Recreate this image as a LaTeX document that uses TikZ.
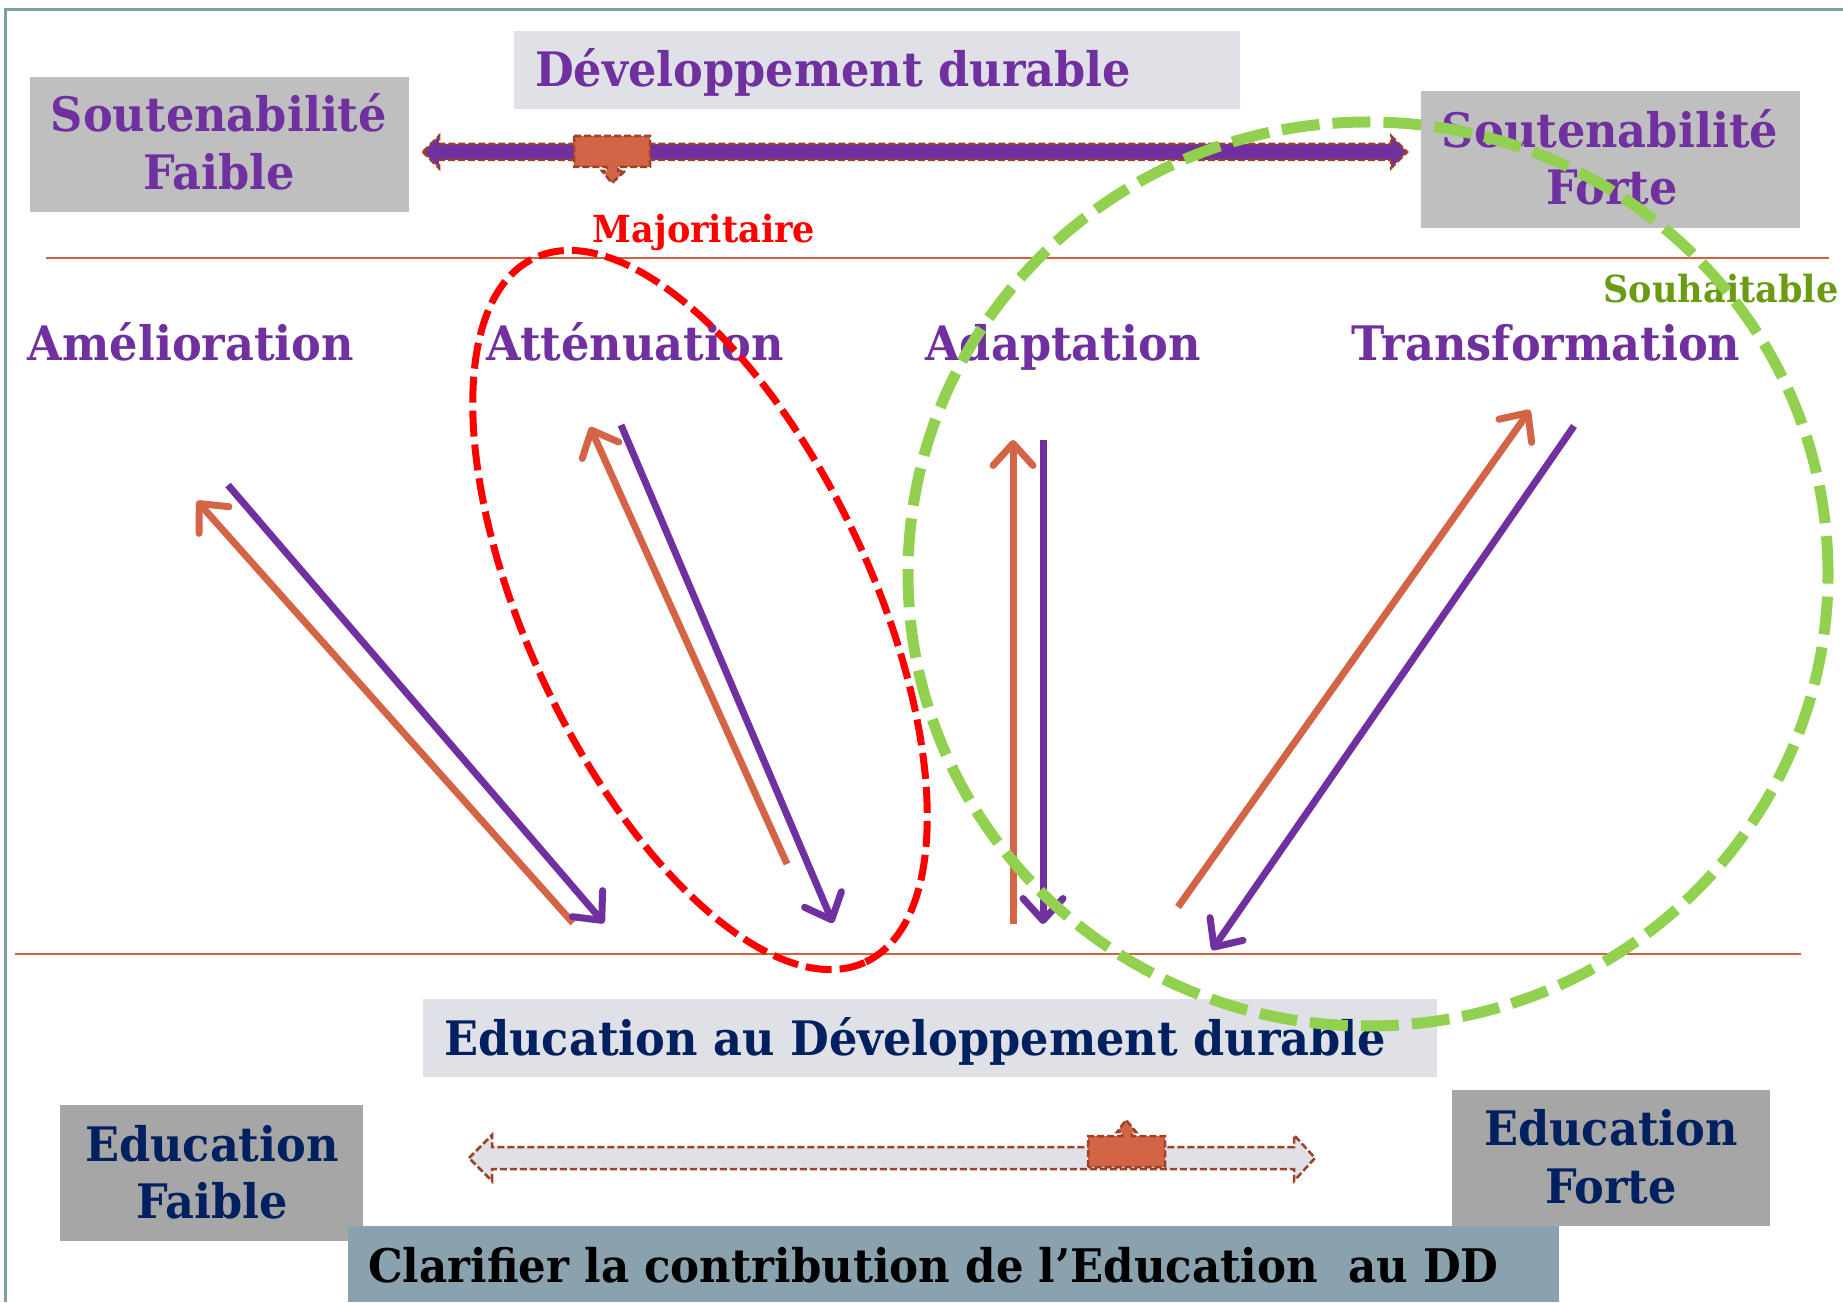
\documentclass[tikz,border=0pt]{standalone}
\usepackage{fontspec}
\setmainfont{DejaVu Serif}[FakeStretch=0.94]
\usetikzlibrary{arrows.meta}
\definecolor{purp}{HTML}{7030A0}
\definecolor{navy}{HTML}{002060}
\definecolor{gA}{HTML}{BFBFBF}
\definecolor{gB}{HTML}{A6A6A6}
\definecolor{lbox}{HTML}{E0E1E6}
\definecolor{clar}{HTML}{89A2AD}
\definecolor{orng}{HTML}{D36446}
\definecolor{brwn}{HTML}{9C4228}
\definecolor{lgreen}{HTML}{92D050}
\definecolor{dgreen}{HTML}{6B9B13}
\definecolor{framec}{HTML}{7A9FA4}
\definecolor{rline}{HTML}{D0603E}
\begin{document}
\begin{tikzpicture}[x=1pt,y=1pt,
  big/.style={font=\fontsize{47.5}{56}\selectfont\bfseries, inner sep=0pt},
  bigc/.style={font=\fontsize{46.3}{56}\selectfont\bfseries, inner sep=0pt},
  small/.style={font=\fontsize{37.3}{42}\selectfont\bfseries, inner sep=0pt},
  thinarrow/.style={line width=7pt, -{Straight Barb[length=22pt, width=40pt, line cap=round, line join=round]}},
  blockarrow/.style={draw=brwn, line width=2.5pt, dash pattern=on 7pt off 3pt},
  sepline/.style={draw=rline, line width=2pt}
]
\useasboundingbox (0,0) rectangle (1843,1302);
% frame
\draw[framec, line width=3pt] (1843,1292) -- (5,1292) -- (5,0);

% top boxes
\node[fill=lbox, minimum width=726pt, minimum height=78pt, inner sep=0pt] (devbox) at (877,1232) {};
\node[big, text=purp, anchor=base west] (devtxt) at (535,1215) {Développement durable};
\node[fill=gA, minimum width=379pt, minimum height=135pt, inner sep=0pt] (sfbox) at (219.5,1157.5) {};
\node[big, text=purp, anchor=base] (sfA) at (219,1170) {Soutenabilité};
\node[big, text=purp, anchor=base] (sfB) at (219,1112) {Faible};
\node[fill=gA, minimum width=379pt, minimum height=137pt, inner sep=0pt] (sFbox) at (1610.5,1142.5) {};
\node[big, text=purp, anchor=base] (sFA) at (1610,1154) {Soutenabilité};
\node[big, text=purp, anchor=base] (sFB) at (1612,1097) {Forte};

% upper block arrow
\filldraw[blockarrow, fill=purp] (423,1150) -- (439,1166) -- (439,1158) -- (1391,1158) -- (1391,1166) -- (1407,1150) -- (1391,1134) -- (1391,1142) -- (439,1142) -- (439,1134) -- cycle;
\filldraw[blockarrow, fill=orng] (574,1166) -- (650,1166) -- (650,1135) -- (618,1135) -- (618,1131) -- (625,1131) -- (612,1119) -- (602,1131) -- (607,1131) -- (607,1135) -- (574,1135) -- cycle;

% separator lines
\draw[sepline] (46,1044) -- (1829,1044);
\draw[sepline] (15,348) -- (1801,348);

% labels
\node[small, text=red, anchor=base] (maj) at (704,1059) {Majoritaire};
\node[small, text=dgreen, anchor=base] (souh) at (1721,999) {Souhaitable};
\node[big, text=purp, anchor=base] (amel) at (191,941) {Amélioration};
\node[big, text=purp, anchor=base] (atten) at (635,941) {Atténuation};
\node[big, text=purp, anchor=base] (adapt) at (1063,941) {Adaptation};
\node[big, text=purp, anchor=base] (transf) at (1546,941) {Transformation};

% arrow endpoints
\coordinate (a1o) at (573,379); \coordinate (a1O) at (197,801);
\coordinate (a1p) at (228,817); \coordinate (a1P) at (604,379);
\coordinate (a2o) at (787,438); \coordinate (a2O) at (590,875);
\coordinate (a2p) at (621,877); \coordinate (a2P) at (833,379);
\coordinate (a3o) at (1013,378); \coordinate (a3O) at (1013,862);
\coordinate (a3p) at (1043,862); \coordinate (a3P) at (1043,378);
\coordinate (a4o) at (1178,395); \coordinate (a4O) at (1530,892);
\coordinate (a4p) at (1574,876); \coordinate (a4P) at (1212,352);
\draw[thinarrow, orng] (a1o) -- (a1O);
\draw[thinarrow, purp] (a1p) -- (a1P);
\draw[thinarrow, orng] (a2o) -- (a2O);
\draw[thinarrow, purp] (a2p) -- (a2P);
\draw[thinarrow, orng] (a3o) -- (a3O);
\draw[thinarrow, purp] (a3p) -- (a3P);
\draw[thinarrow, orng] (a4o) -- (a4O);
\draw[thinarrow, purp] (a4p) -- (a4P);

% lower part
\node[fill=lbox, minimum width=1014pt, minimum height=78pt, inner sep=0pt] (eddbox) at (930,264) {};
\node[big, text=navy, anchor=base west] (eddtxt) at (444,247) {Education au Développement durable};
\node[fill=gB, minimum width=303pt, minimum height=136pt, inner sep=0pt] (efbox) at (211.5,129) {};
\node[big, text=navy, anchor=base] (efA) at (212,141) {Education};
\node[big, text=navy, anchor=base] (efB) at (212,84) {Faible};
\node[fill=gB, minimum width=318pt, minimum height=136pt, inner sep=0pt] (eFbox) at (1611,144) {};
\node[big, text=navy, anchor=base] (eFA) at (1611,157) {Education};
\node[big, text=navy, anchor=base] (eFB) at (1611,99) {Forte};

\filldraw[blockarrow, fill=lbox] (469,144) -- (492,167) -- (492,155) -- (1294,155) -- (1294,167) -- (1315,144) -- (1294,121) -- (1294,133) -- (492,133) -- (492,121) -- cycle;
\filldraw[blockarrow, fill=orng] (1088,135) -- (1088,166) -- (1122,166) -- (1122,170) -- (1117,170) -- (1126,182) -- (1136,170) -- (1132,170) -- (1132,166) -- (1165,166) -- (1165,135) -- cycle;

\node[fill=clar, minimum width=1211pt, minimum height=76pt, inner sep=0pt] (clbox) at (953.5,38) {};
\node[bigc, text=black, anchor=base west] (cltxt) at (368,20) {Clarifier la contribution de l’Education\ \ au DD};

% ellipses
\draw[lgreen, line width=11pt, dash pattern=on 38pt off 13pt] (1368,728) ellipse [x radius=460, y radius=452];
\draw[red, line width=7pt, dash pattern=on 26pt off 8pt] (700,692) ellipse [x radius=389, y radius=172, rotate=-64.8];
\end{tikzpicture}
\end{document}
